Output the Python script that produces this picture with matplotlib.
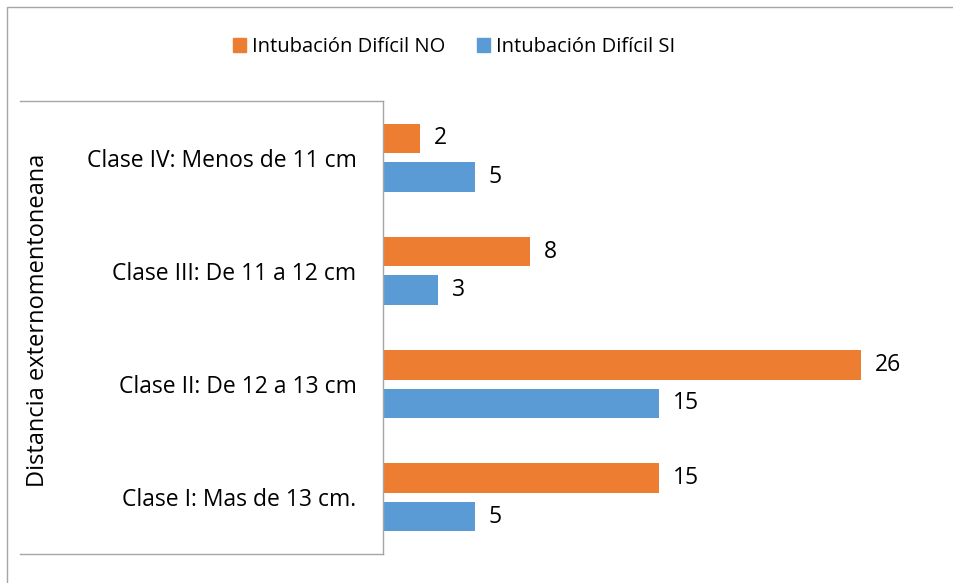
import matplotlib
matplotlib.use('Agg')
import matplotlib.pyplot as plt
from matplotlib.lines import Line2D
from matplotlib.patches import Rectangle

#
# data
#
categories = ['Clase I: Mas de 13 cm.', 'Clase II: De 12 a 13 cm',
              'Clase III: De 11 a 12 cm', 'Clase IV: Menos de 11 cm']
dificil_no = [15, 26, 8, 2]
dificil_si = [5, 15, 3, 5]
series_names = ['Intubación Difícil NO', 'Intubación Difícil SI']
axis_title = 'Distancia externomentoneana'

orange = '#ED7D31'
blue = '#5B9BD5'
gray = '#A6A6A6'
font = 'Open Sans'

W, H = 954, 583
fig = plt.figure(figsize=[W / 100, H / 100], dpi=100)
plt.rcParams['font.family'] = [font, 'DejaVu Sans']

# axes box in pixels
left, right, top, bottom = 383, 935, 101, 554
ax = fig.add_axes([left / W, 1 - bottom / H, (right - left) / W, (bottom - top) / H])

ypos = list(range(len(categories)))
h = 0.26
off = 0.17
b1 = ax.barh([y + off for y in ypos], dificil_no, height=h, color=orange)
b2 = ax.barh([y - off for y in ypos], dificil_si, height=h, color=blue)

for bars, vals in [(b1, dificil_no), (b2, dificil_si)]:
    for bar, v in zip(bars, vals):
        ax.annotate(str(v), (bar.get_width(), bar.get_y() + bar.get_height() / 2),
                    xytext=(10, 0), textcoords='offset points',
                    ha='left', va='center', fontsize=16.5, color='#000000')

ax.set_xlim(0, 30)
ax.set_ylim(-0.5, len(categories) - 0.5)
ax.set_yticks(ypos)
ax.set_yticklabels(categories, fontsize=16.5)
ax.tick_params(axis='y', length=0, pad=19)
ax.set_xticks([])
for s in ['top', 'right', 'bottom']:
    ax.spines[s].set_visible(False)
ax.spines['left'].set_color(gray)
ax.spines['left'].set_linewidth(1)

# category label box lines
for yy in [top, bottom]:
    fig.add_artist(Line2D([20 / W, left / W], [1 - yy / H, 1 - yy / H],
                          color=gray, linewidth=1))

fig.text(38 / W, 1 - 320 / H, axis_title, rotation=90, ha='center', va='center',
         fontsize=17)

# outer border
fig.add_artist(Rectangle((7 / W, -0.1), 1.2, 1 - 7 / H + 0.1, fill=False,
                         edgecolor=gray, linewidth=1, transform=fig.transFigure))

# legend
handles = [Rectangle((0, 0), 1, 1, color=orange), Rectangle((0, 0), 1, 1, color=blue)]
fig.legend(handles, series_names, loc='center', bbox_to_anchor=(454 / W, 1 - 47 / H),
           ncol=2, frameon=False, fontsize=14.5, handlelength=0.65, handleheight=0.65,
           handletextpad=0.3, columnspacing=1.6)

plt.savefig('out.png', dpi=100)
plt.close()
